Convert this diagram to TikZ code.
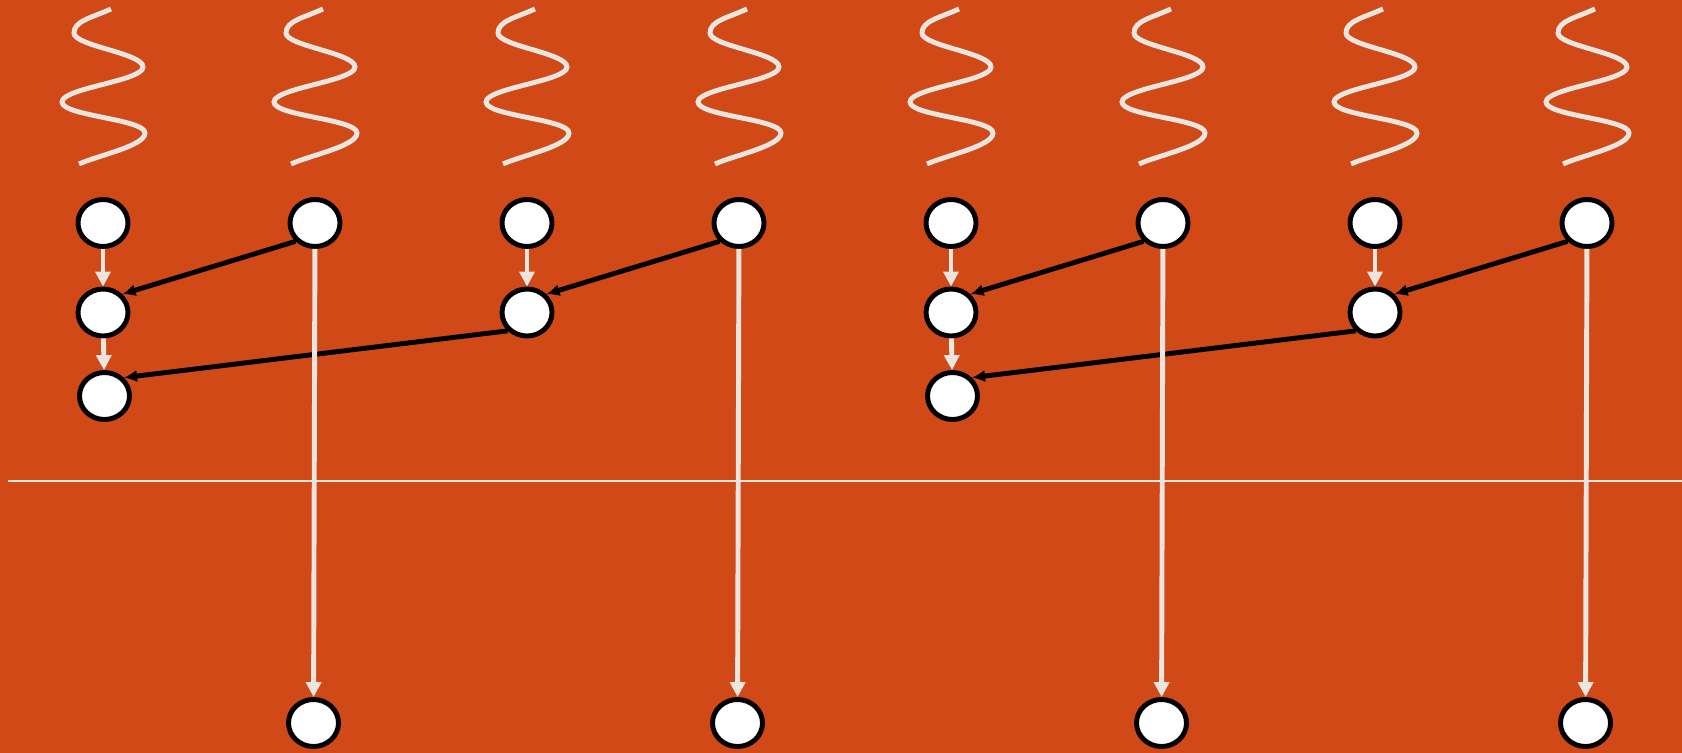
\documentclass[tikz,border=0pt]{standalone}
\usetikzlibrary{arrows.meta,shapes.geometric}
\definecolor{rust}{RGB}{210,73,24}
\definecolor{chalk}{RGB}{234,230,223}
\newcommand{\squig}[1]{%
   \draw[squiggle,shift={(#1,0)}] (  8,  9) .. controls (-12, 18) and (-29, 21) .. (-29, 33)
        .. controls (-29, 46) and ( 40, 53) .. ( 40, 67)
        .. controls ( 40, 81) and (-41, 88) .. (-41,102)
        .. controls (-41,116) and ( 42,119) .. ( 42,133)
        .. controls ( 42,146) and ( -4,155) .. (-24,164);}

\begin{document}
\begin{tikzpicture}[x=0.02cm,y=-0.02cm,
   cell/.style={ellipse,draw=black,fill=white,line width=2.8pt,inner sep=0pt,
                minimum width=1cm,minimum height=0.94cm},
   carry/.style={draw=chalk,line width=2.8pt,-{Triangle[length=8.5pt,width=8.5pt]}},
   merge/.style={draw=black,line width=2.8pt,-{Latex[length=7.5pt,width=7pt]}},
   squiggle/.style={draw=chalk,line width=2.8pt}]
   \useasboundingbox (0,0) rectangle (1682,753);
   \fill[rust] (0,0) rectangle (1682,753);
   \squig{ 103}
   \squig{ 315}
   \squig{ 527}
   \squig{ 739}
   \squig{ 951}
   \squig{1163}
   \squig{1375}
   \squig{1587}
   \coordinate (rule-l) at (   8,481);
   \coordinate (rule-r) at (1682,481);
   \draw[chalk,line width=1.7pt] (rule-l) -- (rule-r);
   \node[cell] (a1) at ( 103.0,223.0) {};
   \node[cell] (a2) at ( 103.0,312.5) {};
   \node[cell] (a3) at ( 104.5,396.0) {};
   \node[cell] (b1) at ( 315.0,223.0) {};
   \node[cell] (b4) at ( 313.5,723.0) {};
   \node[cell] (c1) at ( 527.0,223.0) {};
   \node[cell] (c2) at ( 527.0,312.5) {};
   \node[cell] (d1) at ( 739.0,223.0) {};
   \node[cell] (d4) at ( 737.5,723.0) {};
   \node[cell] (e1) at ( 951.0,223.0) {};
   \node[cell] (e2) at ( 951.0,312.5) {};
   \node[cell] (e3) at ( 952.5,396.0) {};
   \node[cell] (f1) at (1163.0,223.0) {};
   \node[cell] (f4) at (1161.5,723.0) {};
   \node[cell] (g1) at (1375.0,223.0) {};
   \node[cell] (g2) at (1375.0,312.5) {};
   \node[cell] (h1) at (1587.0,223.0) {};
   \node[cell] (h4) at (1585.5,723.0) {};
   \draw[carry] (a1) -- (a2);
   \draw[carry] (a2) -- (a3);
   \draw[carry] (c1) -- (c2);
   \draw[carry] (e1) -- (e2);
   \draw[carry] (e2) -- (e3);
   \draw[carry] (g1) -- (g2);
   \draw[merge] (b1.south west) -- (a2.north east);
   \draw[merge] (d1.south west) -- (c2.north east);
   \draw[merge] (c2.south west) -- (a3.north east);
   \draw[merge] (f1.south west) -- (e2.north east);
   \draw[merge] (h1.south west) -- (g2.north east);
   \draw[merge] (g2.south west) -- (e3.north east);
   \draw[carry] (b1) -- (b4);
   \draw[carry] (d1) -- (d4);
   \draw[carry] (f1) -- (f4);
   \draw[carry] (h1) -- (h4);
\end{tikzpicture}
\end{document}
